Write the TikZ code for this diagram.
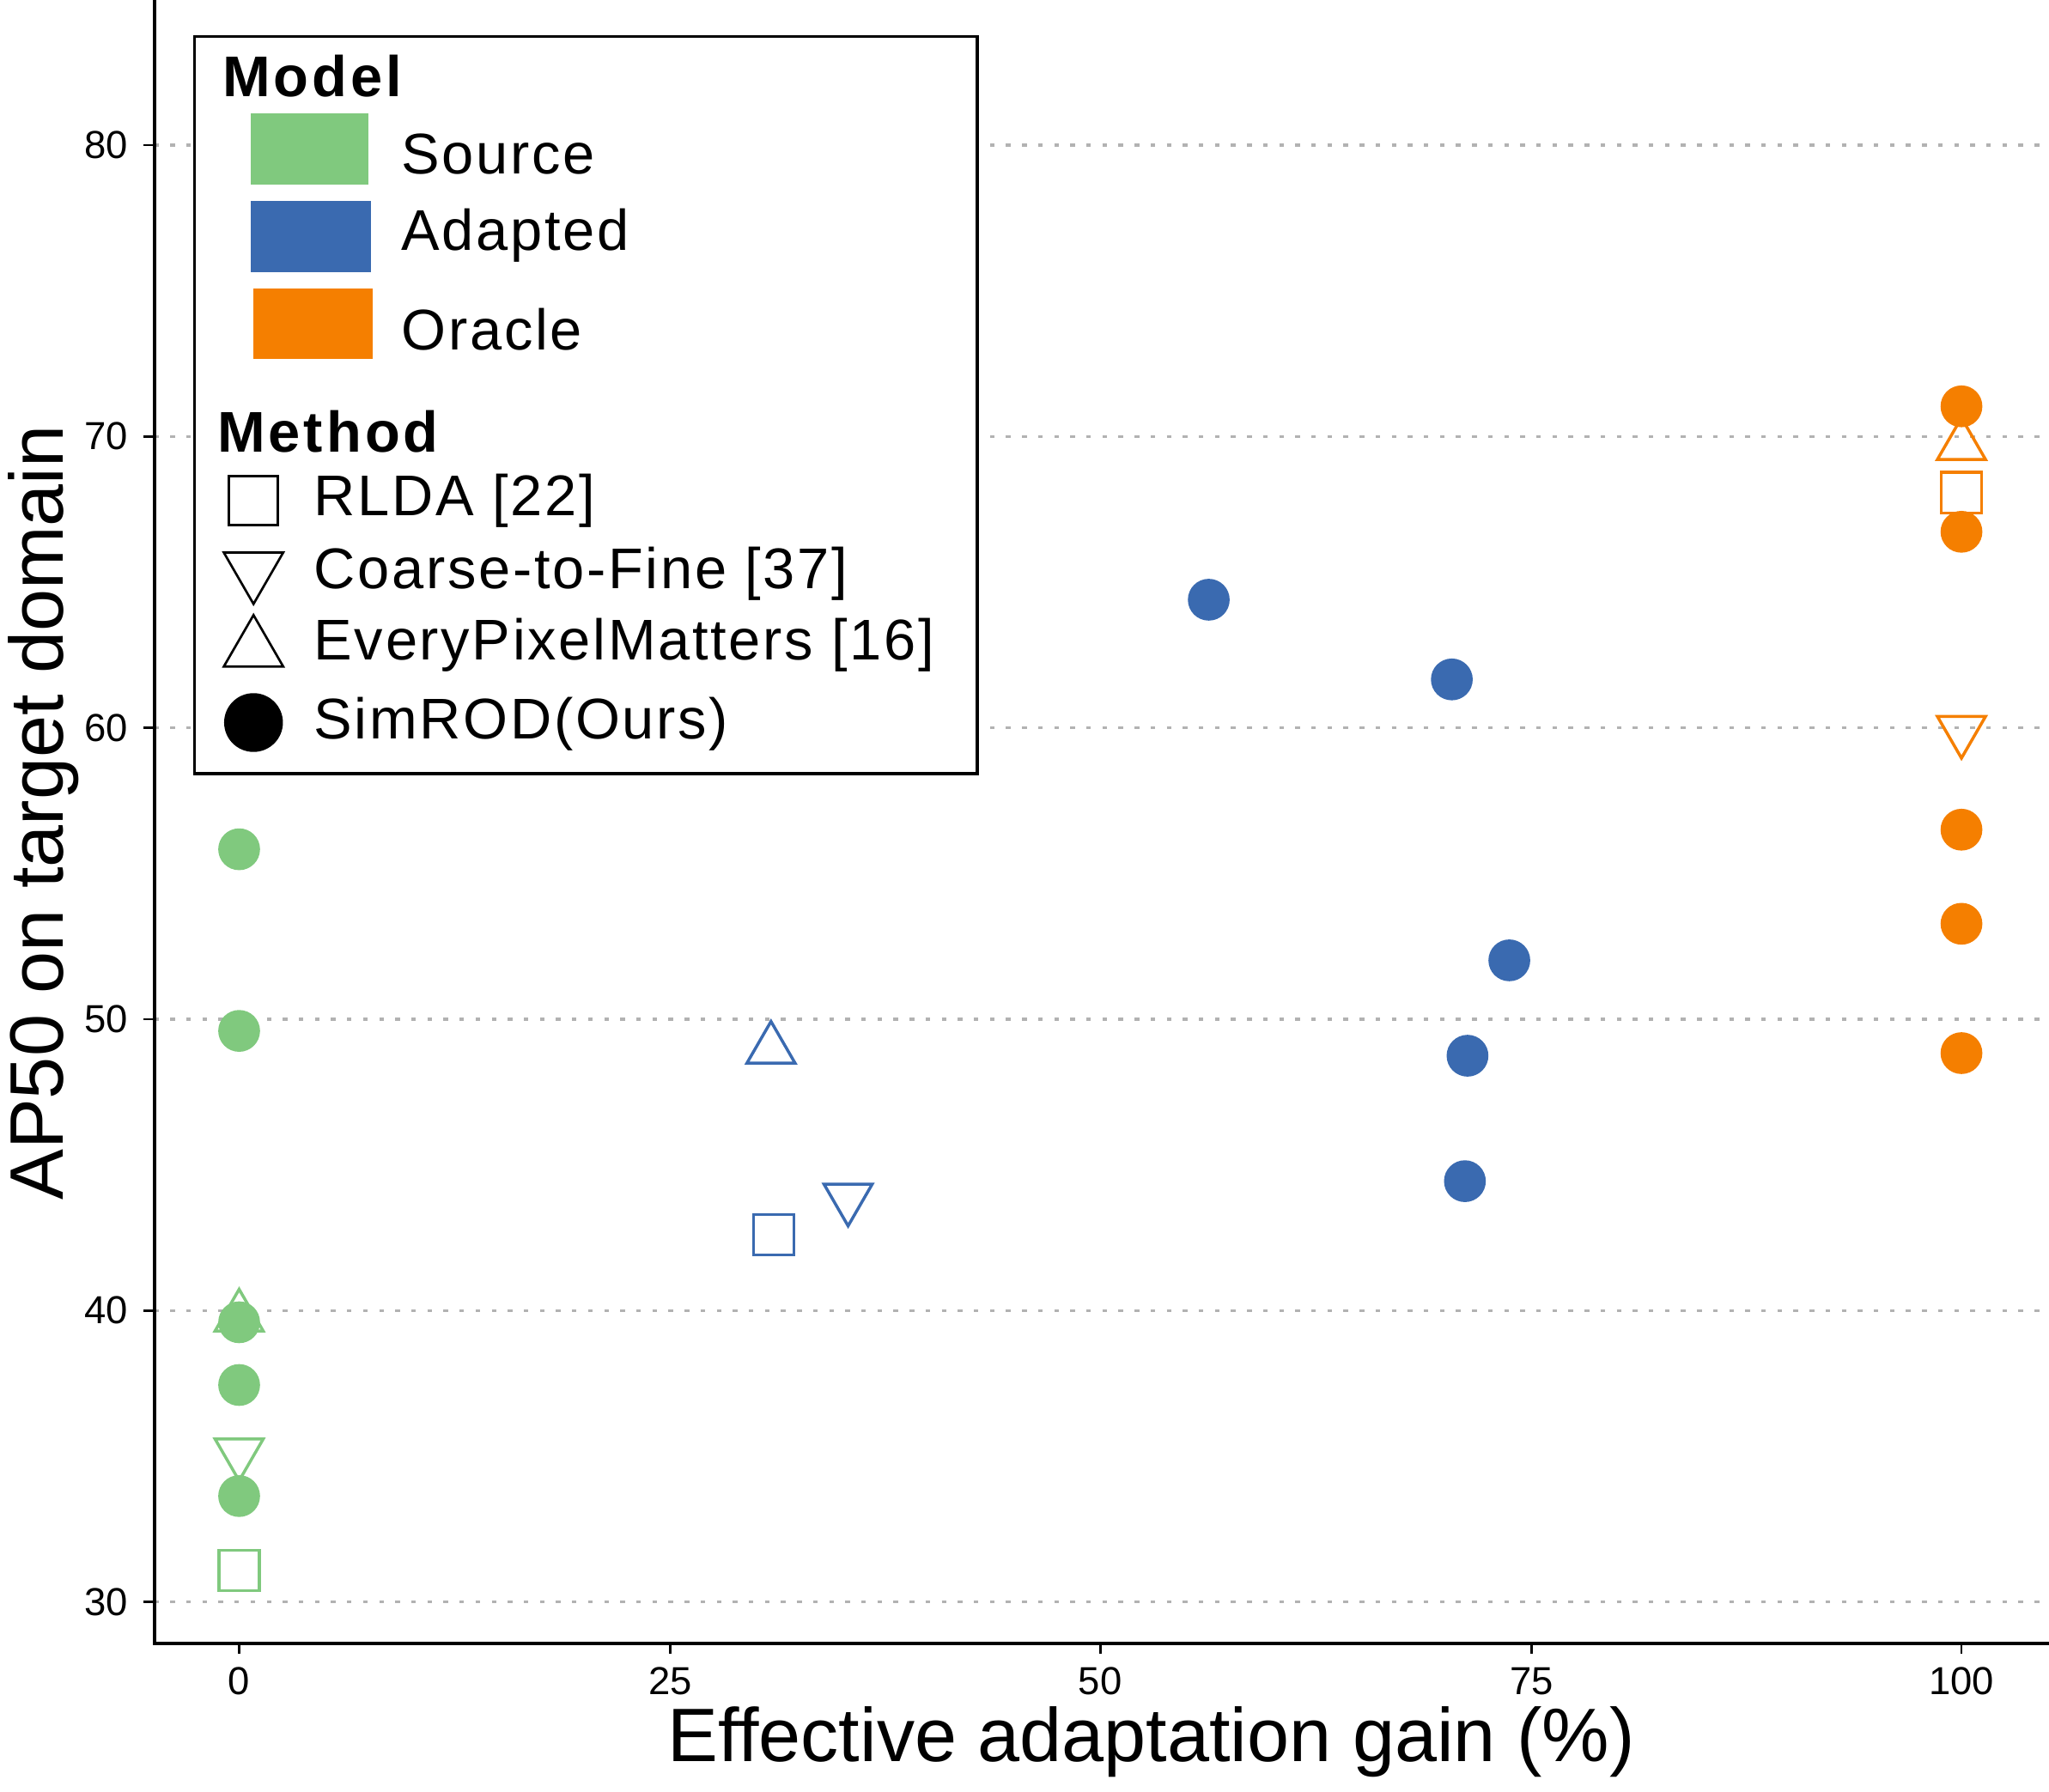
\documentclass[tikz,border=0pt]{standalone}
\usepackage{fontspec}
\setmainfont{Liberation Sans}
\usetikzlibrary{shapes.geometric}
\definecolor{cS}{HTML}{80C97E}
\definecolor{cA}{HTML}{3A6AB0}
\definecolor{cO}{HTML}{F57F00}
\tikzset{
 pt/.style={circle,fill=#1,draw=none,minimum size=0.64cm,inner sep=0},
 sq/.style={rectangle,draw=#1,line width=1.3pt,minimum size=0.62cm,inner sep=0},
 tu/.style={regular polygon,regular polygon sides=3,draw=#1,line width=1.3pt,minimum size=0.85cm,inner sep=0},
 td/.style={regular polygon,regular polygon sides=3,shape border rotate=180,draw=#1,line width=1.3pt,minimum size=0.85cm,inner sep=0},
 grid/.style={gray!60,line width=1.2pt,dash pattern=on 2pt off 5pt},
 tick/.style={font=\fontsize{17}{19}\selectfont},
 leg/.style={font=\fontsize{25}{28}\selectfont\addfontfeatures{LetterSpace=4},anchor=west,inner sep=0},
 legh/.style={font=\fontsize{25}{28}\selectfont\bfseries\addfontfeatures{LetterSpace=6},anchor=west,inner sep=0},
}
\begin{document}
\begin{tikzpicture}[x=0.02cm,y=-0.02cm]
\useasboundingbox (0,0) rectangle (1568,1371);
\foreach \v/\y in {80/111,70/334,60/557,50/780,40/1003,30/1226}{
 \draw[grid] (118,\y) -- (1568,\y);
 \draw[line width=1pt] (110,\y) -- (118,\y);
 \node[tick,anchor=east] (yl\v) at (104,\y) {\v};
}
\foreach \v/\x in {0/183,25/513,50/842,75/1172,100/1501}{
 \draw[line width=1pt] (\x,1258) -- (\x,1266);
 \node[tick,anchor=north] (xl\v) at (\x,1270) {\v};
}
\draw[line width=1.5pt] (118,0) -- (118,1258) -- (1568,1258);
\node[font=\fontsize{33}{36}\selectfont] (xt) at (881,1333) {Effective adaptation gain (\%)};
\node[font=\fontsize{33}{36}\selectfont,rotate=90] (yt) at (33,622) {AP50 on target domain};
\node[sq=cS] (s1) at (183,1202) {};
\node[td=cS] (s2) at (183,1112) {};
\node[tu=cS] (s3) at (183,1008) {};
\foreach \y/\n in {650/a,789/b,1012/c,1060/d,1145/e} \node[pt=cS] (sc\n) at (183,\y) {};
\node[sq=cA] (a1) at (592,945) {};
\node[td=cA] (a2) at (649,917) {};
\node[tu=cA] (a3) at (590,803) {};
\node[pt=cA] (ac1) at (925,459) {};
\node[pt=cA] (ac2) at (1111,520) {};
\node[pt=cA] (ac3) at (1155,735) {};
\node[pt=cA] (ac4) at (1123,808) {};
\node[pt=cA] (ac5) at (1121,904) {};
\foreach \y/\n in {311/a,407/b,635/c,707/d,806/e} \node[pt=cO] (oc\n) at (1501,\y) {};
\node[tu=cO] (o3) at (1501,341) {};
\node[sq=cO] (o1) at (1501,377) {};
\node[td=cO] (o2) at (1501,559) {};
\draw[line width=1.3pt,fill=white] (149,28) rectangle (748,592);
\node[legh] (lm) at (170,58) {Model};
\fill[cS] (192,87) rectangle (282,141);
\fill[cA] (192,154) rectangle (284,208);
\fill[cO] (194,221) rectangle (285,275);
\node[leg] (l1) at (307,118) {Source};
\node[leg] (l2) at (307,180) {Adapted};
\node[leg] (l3) at (307,252) {Oracle};
\node[legh] (lme) at (166,330) {Method};
\node[sq=black,line width=1pt,minimum size=0.75cm] (k1) at (194,383) {};
\node[td=black,line width=1pt,minimum size=1.05cm] (k2) at (194,436) {};
\node[tu=black,line width=1pt,minimum size=1.05cm] (k3) at (194,497) {};
\node[pt=black,minimum size=0.9cm] (k4) at (194,553) {};
\node[leg] (m1) at (240,383) {RLDA [22]};
\node[leg] (m2) at (240,439) {Coarse-to-Fine [37]};
\node[leg] (m3) at (240,494) {EveryPixelMatters [16]};
\node[leg] (m4) at (240,554) {SimROD(Ours)};
\end{tikzpicture}
\end{document}
